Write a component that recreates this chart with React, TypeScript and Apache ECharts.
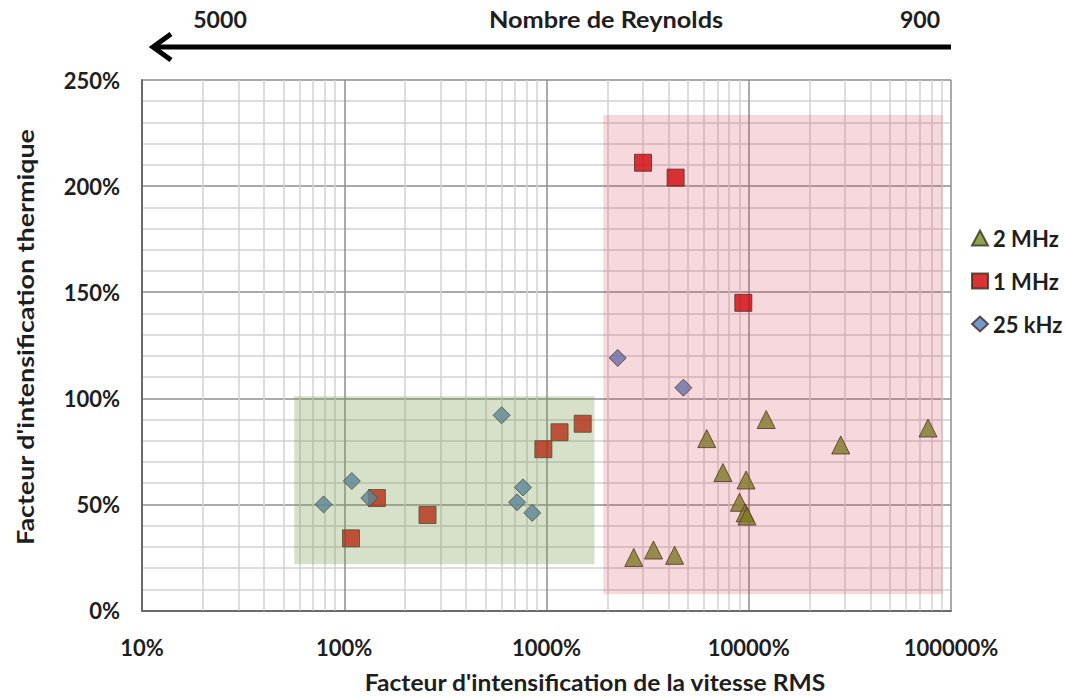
import React, { useEffect, useRef } from 'react';
import * as echarts from 'echarts';

// ---- data (x: % of RMS velocity intensification, y: % thermal intensification)
const seriesNames = ['2 MHz', '1 MHz', '25 kHz'];
const mhz2: [number, number][] = [
  [2700, 25], [3380, 28.5], [4300, 26], [6200, 81], [7450, 65], [9700, 61.5],
  [9000, 51], [9600, 46], [9800, 44.5], [12200, 90], [28500, 78], [77000, 86],
];
const mhz1: [number, number][] = [
  [108, 34], [145, 53], [258, 45], [965, 76], [1160, 84], [1510, 88],
  [3000, 211], [4350, 204], [9400, 145],
];
const khz25: [number, number][] = [
  [79, 50], [109, 61], [133, 53], [600, 92], [765, 58], [715, 51], [850, 46],
  [2250, 119], [4750, 105],
];
const greenZone: [number, number][] = [[56.6, 101], [1726, 21.8]];
const pinkZone: [number, number][] = [[1910, 233.5], [90800, 7.6]];
const xDecades = [10, 100, 1000, 10000];
const reynoldsTitle = 'Nombre de Reynolds';
const reynoldsLeft = '5000';
const reynoldsRight = '900';
const xTitle = "Facteur d'intensification de la vitesse RMS";
const yTitle = "Facteur d'intensification thermique";

const FONT = 'Lato, "Open Sans", "Noto Sans", sans-serif';
const TEXT = '#1e1e1e';

export default function App() {
  const ref = useRef<HTMLDivElement>(null);
  useEffect(() => {
    if (!ref.current) return;
    const chart = echarts.init(ref.current, undefined, { renderer: 'svg' });
    const minorX: { xAxis: number }[] = [];
    xDecades.forEach((d) => {
      for (let k = 2; k <= 9; k++) minorX.push({ xAxis: k * d });
    });
    const markerBorder = { borderColor: '#3b3020', borderWidth: 1 };
    const txt = (text: string, size: number) => ({
      text, fontFamily: FONT, fontWeight: 'bold', fontSize: size, fill: TEXT,
      align: 'center', verticalAlign: 'middle',
    });
    chart.setOption({
      animation: false,
      backgroundColor: '#ffffff',
      grid: { left: 142, top: 80, right: 114, bottom: 86.5, containLabel: false },
      legend: {
        orient: 'vertical',
        left: 966,
        top: 222,
        itemGap: 21,
        itemWidth: 16,
        itemHeight: 15,
        data: seriesNames,
        textStyle: { fontFamily: FONT, fontWeight: 'bold', fontSize: 22, color: TEXT },
      },
      xAxis: {
        type: 'log',
        logBase: 10,
        min: 10,
        max: 100000,
        splitNumber: 4,
        axisLine: { show: true, onZero: false, lineStyle: { color: '#6a6a6a', width: 2 } },
        axisTick: { show: false },
        axisLabel: {
          margin: 26,
          fontFamily: FONT,
          fontWeight: 'bold',
          fontSize: 22,
          color: TEXT,
          formatter: (v: number) => `${v}%`,
        },
        splitLine: { show: true, lineStyle: { color: '#8e8e8e', width: 1.5 } },
      },
      yAxis: {
        type: 'value',
        min: 0,
        max: 250,
        interval: 10,
        axisLine: { show: true, lineStyle: { color: '#6a6a6a', width: 2 } },
        axisTick: { show: false },
        axisLabel: {
          margin: 22,
          fontFamily: FONT,
          fontWeight: 'bold',
          fontSize: 22,
          color: TEXT,
          formatter: (v: number) => (v % 50 === 0 ? `${v}%` : ''),
        },
        splitLine: {
          show: true,
          lineStyle: {
            color: ['#8e8e8e', '#d2d2d2', '#d2d2d2', '#d2d2d2', '#d2d2d2'],
            width: 1.5,
          },
        },
      },
      series: [
        {
          name: '2 MHz',
          type: 'scatter',
          symbol: 'triangle',
          symbolSize: 18,
          data: mhz2,
          z: 3,
          itemStyle: { color: '#6c8c22', ...markerBorder },
        },
        {
          name: '1 MHz',
          type: 'scatter',
          symbol: 'rect',
          symbolSize: 17,
          data: mhz1,
          z: 3,
          itemStyle: { color: '#d00000', ...markerBorder },
        },
        {
          name: '25 kHz',
          type: 'scatter',
          symbol: 'diamond',
          symbolSize: 17,
          data: khz25,
          z: 3,
          itemStyle: { color: '#4f7fbd', ...markerBorder },
        },
        {
          name: 'minorGrid',
          type: 'scatter',
          data: [],
          silent: true,
          z: 1,
          markLine: {
            z: 1,
            silent: true,
            symbol: ['none', 'none'],
            label: { show: false },
            lineStyle: { type: 'solid', color: '#d2d2d2', width: 1.5 },
            emphasis: { disabled: true },
            data: minorX,
          },
        },
        {
          name: 'zones',
          type: 'scatter',
          data: [],
          silent: true,
          z: 10,
          markArea: {
            z: 10,
            silent: true,
            label: { show: false },
            emphasis: { disabled: true },
            data: [
              [
                { coord: greenZone[0], itemStyle: { color: 'rgba(122,152,72,0.3)' } },
                { coord: greenZone[1] },
              ],
              [
                { coord: pinkZone[0], itemStyle: { color: 'rgba(210,40,60,0.18)' } },
                { coord: pinkZone[1] },
              ],
            ],
          },
        },
      ],
      graphic: [
        {
          type: 'line',
          shape: { x1: 951, y1: 47, x2: 156, y2: 47 },
          style: { stroke: '#000', lineWidth: 5 },
        },
        {
          type: 'polyline',
          shape: { points: [[171, 34], [153, 47], [171, 60]] },
          style: { stroke: '#000', lineWidth: 5, fill: 'none', lineJoin: 'miter' },
        },
        { type: 'text', x: 220, y: 20, scaleX: 1.05, style: txt(reynoldsLeft, 22) },
        { type: 'text', x: 606, y: 20, scaleX: 1.15, style: txt(reynoldsTitle, 22) },
        { type: 'text', x: 920, y: 20, scaleX: 1.05, style: txt(reynoldsRight, 22) },
        { type: 'text', x: 595, y: 683, scaleX: 1.12, style: txt(xTitle, 22) },
        {
          type: 'text',
          x: 25,
          y: 337,
          rotation: Math.PI / 2,
          scaleX: 1.22,
          style: txt(yTitle, 22),
        },
      ],
    });
    return () => chart.dispose();
  }, []);
  return (
    <div
      ref={ref}
      style={{ position: 'fixed', left: 0, top: 0, width: 1065, height: 697, background: '#fff' }}
    />
  );
}
